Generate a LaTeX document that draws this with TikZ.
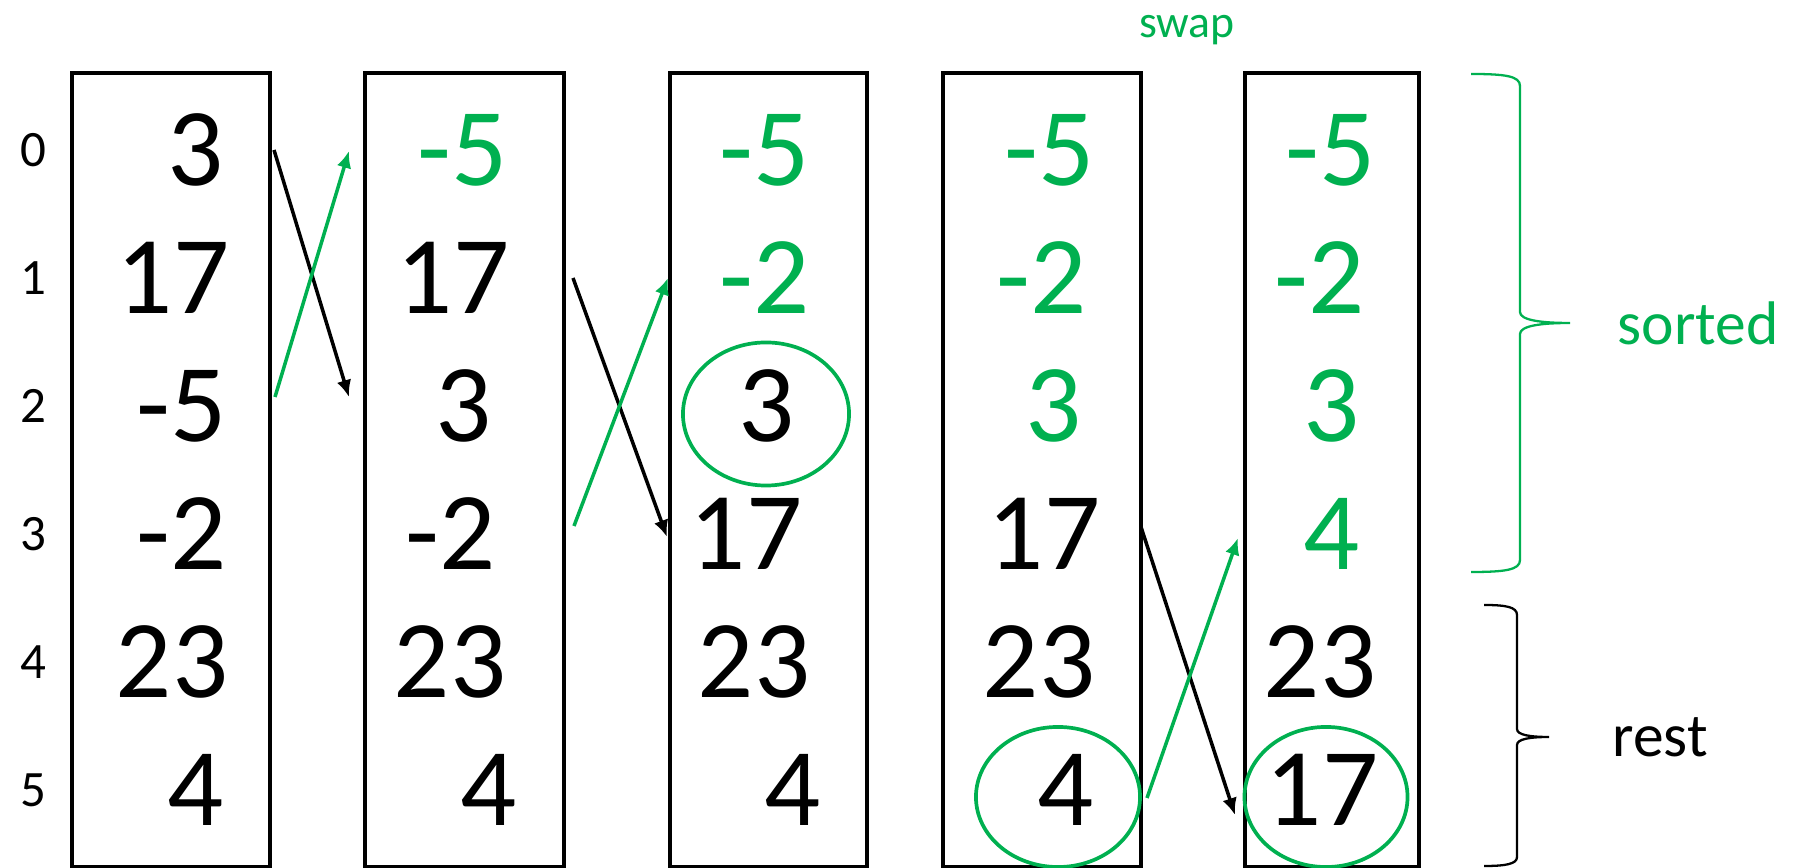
\documentclass[tikz,border=0pt]{standalone}
\usepackage{fontspec}
\setmainfont{Carlito}
\usepackage{xcolor}
\usepackage{tikz}
\usetikzlibrary{arrows.meta,positioning,shapes.geometric}
\definecolor{sortgreen}{RGB}{0,176,80}
\begin{document}
\begin{tikzpicture}[x=0.01cm,y=-0.01cm,
   col/.style={draw,line width=1.1pt,minimum height=7.94cm,inner sep=0pt},
   num/.style={font=\fontsize{31.5}{32}\selectfont,inner sep=0pt},
   idx/.style={font=\fontsize{14.5}{15}\selectfont,inner sep=0pt},
   ring/.style={draw=sortgreen,line width=1.05pt,ellipse,inner sep=0pt},
   mv/.style={-{Latex[length=4.8pt,width=4.2pt]},line width=1pt},
   bracel/.style={line width=0.65pt}]
  \useasboundingbox (0,0) rectangle (1799,868);
  % columns
  \node[col,minimum width=1.98cm] (b1) at (171,470) {};
  \node[col,minimum width=1.99cm] (b2) at (464.5,470) {};
  \node[col,minimum width=1.97cm] (b3) at (768.5,470) {};
  \node[col,minimum width=1.98cm] (b4) at (1042,470) {};
  \node[col,minimum width=1.74cm] (b5) at (1332,470) {};
  % indices
  \node[idx] (i0) at (33,150) {0};
  \node[idx] (i1) at (33,278) {1};
  \node[idx] (i2) at (33,406) {2};
  \node[idx] (i3) at (33,534) {3};
  \node[idx] (i4) at (33,662) {4};
  \node[idx] (i5) at (33,790) {5};
  % column 1
  \node[num] (n10) at (196,150) {3};
  \node[num] (n11) at (173,278) {17};
  \node[num] (n12) at (182,406) {-5};
  \node[num] (n13) at (182,534) {-2};
  \node[num] (n14) at (172,662) {23};
  \node[num] (n15) at (196,790) {4};
  % column 2
  \node[num,sortgreen] (n20) at (463,150) {-5};
  \node[num] (n21) at (453,278) {17};
  \node[num] (n22) at (464,406) {3};
  \node[num] (n23) at (451,534) {-2};
  \node[num] (n24) at (450,662) {23};
  \node[num] (n25) at (489,790) {4};
  % column 3
  \node[num,sortgreen] (n30) at (765,150) {-5};
  \node[num,sortgreen] (n31) at (765,278) {-2};
  \node[num] (n32) at (767,406) {3};
  \node[num] (n33) at (746,534) {17};
  \node[num] (n34) at (754,662) {23};
  \node[num] (n35) at (793,790) {4};
  % column 4
  \node[num,sortgreen] (n40) at (1050,150) {-5};
  \node[num,sortgreen] (n41) at (1042,278) {-2};
  \node[num,sortgreen] (n42) at (1054,406) {3};
  \node[num] (n43) at (1044,534) {17};
  \node[num] (n44) at (1039,662) {23};
  \node[num] (n45) at (1066,790) {4};
  % column 5
  \node[num,sortgreen] (n50) at (1331,150) {-5};
  \node[num,sortgreen] (n51) at (1320,278) {-2};
  \node[num,sortgreen] (n52) at (1332,406) {3};
  \node[num,sortgreen] (n53) at (1332,534) {4};
  \node[num] (n54) at (1320,662) {23};
  \node[num] (n55) at (1322,790) {17};
  % circled minima
  \node[ring,minimum width=1.66cm,minimum height=1.43cm] (r3) at (766,414) {};
  \node[ring,minimum width=1.64cm,minimum height=1.40cm] (r4) at (1058,797) {};
  \node[ring,minimum width=1.63cm,minimum height=1.40cm] (r5) at (1326,797) {};
  % swaps
  \coordinate (a1s) at (274,150); \coordinate (a1e) at (349,397);
  \coordinate (g1s) at (275,397); \coordinate (g1e) at (349,151);
  \coordinate (a2s) at (573,278); \coordinate (a2e) at (667,537);
  \coordinate (g2s) at (574,526); \coordinate (g2e) at (668,278);
  \coordinate (a3s) at (1141,527); \coordinate (a3e) at (1235,815);
  \coordinate (g3s) at (1147,798); \coordinate (g3e) at (1238,538);
  \draw[mv] (a1s) -- (a1e);
  \draw[mv,sortgreen] (g1s) -- (g1e);
  \draw[mv] (a2s) -- (a2e);
  \draw[mv,sortgreen] (g2s) -- (g2e);
  \draw[mv] (a3s) -- (a3e);
  \draw[mv,sortgreen] (g3s) -- (g3e);
  \node[font=\fontsize{13}{14}\selectfont,sortgreen,anchor=base] (sw) at (1187,38) {swap};
  % braces
  \draw[bracel,sortgreen] (1471,74) .. controls (1505,74) and (1520,76) .. (1520,86)
     -- (1520,312) .. controls (1520,320) and (1540,323) .. (1570,323)
     .. controls (1540,323) and (1520,326) .. (1520,334)
     -- (1520,560) .. controls (1520,570) and (1505,572) .. (1471,572);
  \draw[bracel] (1484,605) .. controls (1506,605) and (1517,607) .. (1517,615)
     -- (1517,729) .. controls (1517,735) and (1530,737) .. (1549,737)
     .. controls (1530,737) and (1517,739) .. (1517,745)
     -- (1517,857) .. controls (1517,864) and (1506,866) .. (1484,866);
  \node[font=\fontsize{17.5}{18}\selectfont,sortgreen,anchor=base] (srt) at (1698,345) {sorted};
  \node[font=\fontsize{17.5}{18}\selectfont,anchor=base] (rst) at (1660,757) {rest};
\end{tikzpicture}
\end{document}
